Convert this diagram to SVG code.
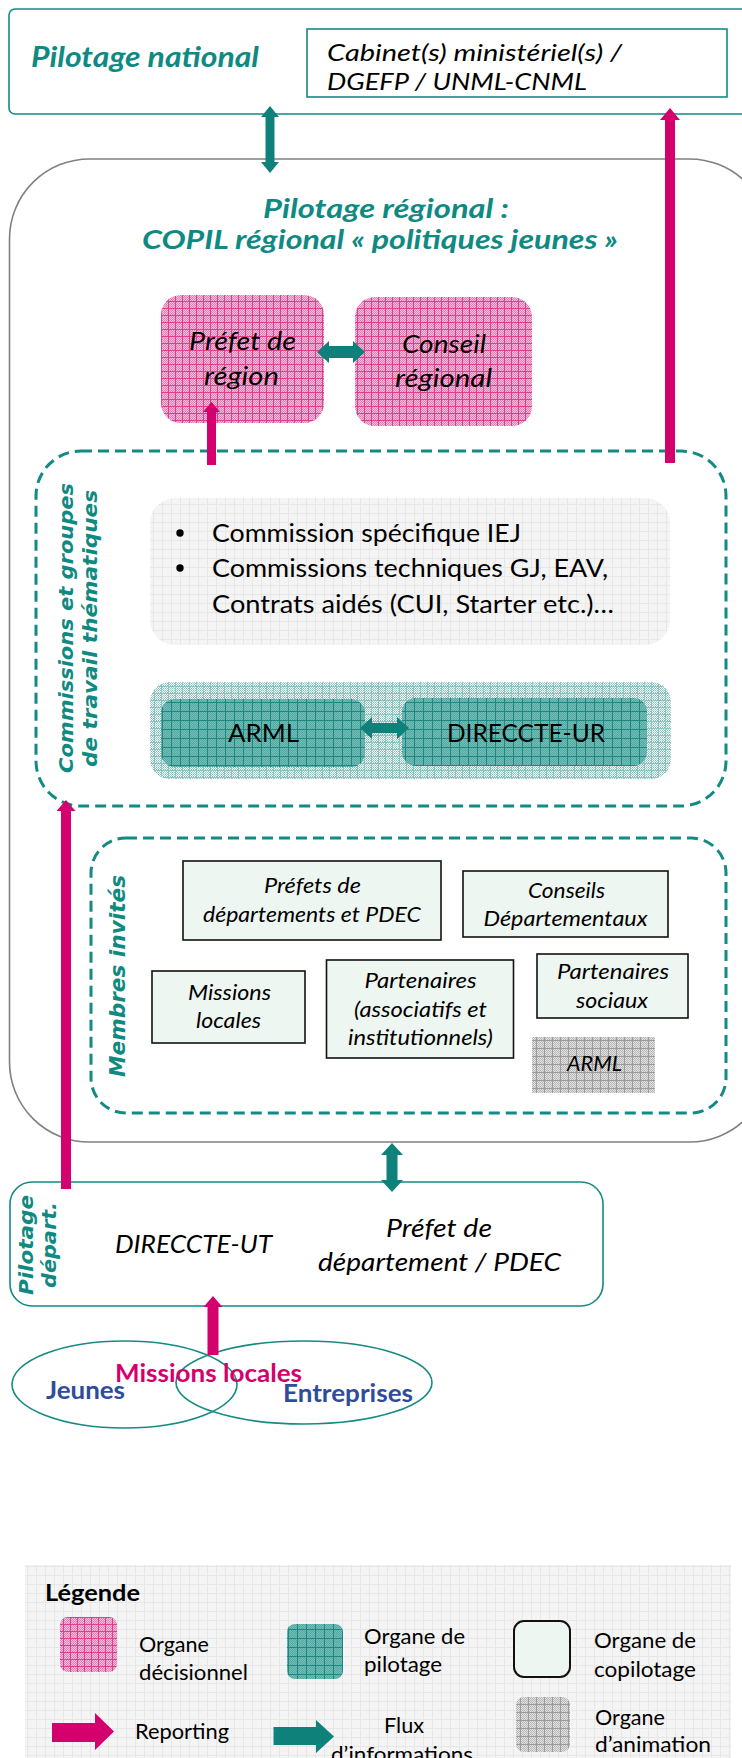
<svg xmlns="http://www.w3.org/2000/svg" width="742" height="1758" viewBox="0 0 742 1758">
  <style>
    .t { font-family: Lato, "Liberation Sans", sans-serif; fill: #000; }
    .it { font-style: italic; }
    .teal { fill: #0f8a82; font-weight: bold; font-style: italic; }
    .vert { font-family: "DejaVu Sans", Verdana, sans-serif; font-weight: bold; font-style: italic; fill: #0f8a82; }
    .mid { text-anchor: middle; }
    .frameTeal { fill: #fff; stroke: #138a83; stroke-width: 1.6; }
    .dash { fill: none; stroke: #138a83; stroke-width: 3; stroke-dasharray: 11 6; }
    .copil { fill: #eef6f1; stroke: #111; stroke-width: 1.6; }
    .pink { fill: #d4006e; }
    .flux { fill: #0e817b; }
    .ell { fill: none; stroke: #168a84; stroke-width: 1.6; }
    .blue { fill: #2f4b9c; font-weight: bold; }
    .mag { fill: #d4006e; font-weight: bold; }
  </style>
  <defs>
    <!-- fine dither cells -->
    <pattern id="dPink" width="2" height="2" patternUnits="userSpaceOnUse">
      <rect width="2" height="2" fill="#f6bfdb"/>
      <rect width="1" height="1" fill="#e77db3"/>
      <rect x="1" y="1" width="1" height="1" fill="#e77db3"/>
    </pattern>
    <pattern id="dTealLight" width="2" height="2" patternUnits="userSpaceOnUse">
      <rect width="2" height="2" fill="#ffffff"/>
      <rect width="1" height="1" fill="#7fbfb9"/>
      <rect x="1" y="1" width="1" height="1" fill="#9fd0cb"/>
    </pattern>
    <pattern id="dTeal" width="2" height="2" patternUnits="userSpaceOnUse">
      <rect width="2" height="2" fill="#74bdb7"/>
      <rect width="1" height="1" fill="#52aaa3"/>
      <rect x="1" y="1" width="1" height="1" fill="#52aaa3"/>
    </pattern>
    <pattern id="dGray" width="2" height="2" patternUnits="userSpaceOnUse">
      <rect width="2" height="2" fill="#e4e4e4"/>
      <rect width="1" height="1" fill="#b4b4b4"/>
      <rect x="1" y="1" width="1" height="1" fill="#b4b4b4"/>
    </pattern>
    <!-- grid fills -->
    <pattern id="fPink" width="7" height="7" patternUnits="userSpaceOnUse">
      <rect width="7" height="7" fill="url(#dPink)"/>
      <path d="M0 0.5H7M0.5 0V7" stroke="#db3f8e" stroke-width="1"/>
    </pattern>
    <pattern id="fTealLight" width="7" height="7" patternUnits="userSpaceOnUse">
      <rect width="7" height="7" fill="url(#dTealLight)"/>
      <path d="M0 0.5H7M0.5 0V7" stroke="#8ac4bf" stroke-width="1"/>
    </pattern>
    <pattern id="fTeal" width="9" height="9" patternUnits="userSpaceOnUse">
      <rect width="9" height="9" fill="url(#dTeal)"/>
      <path d="M0 0.5H9M0.5 0V9" stroke="#1f8780" stroke-width="1"/>
    </pattern>
    <pattern id="fGray" width="8" height="8" patternUnits="userSpaceOnUse">
      <rect width="8" height="8" fill="url(#dGray)"/>
      <path d="M0 0.5H8M0.5 0V8" stroke="#9c9c9c" stroke-width="1"/>
    </pattern>
    <pattern id="fLight" width="9" height="9" patternUnits="userSpaceOnUse">
      <rect width="9" height="9" fill="#f4f4f4"/>
      <path d="M0 0.5H9M0.5 0V9" stroke="#e7e7e7" stroke-width="1"/>
    </pattern>
  </defs>

  <rect width="742" height="1758" fill="#fff"/>

  <!-- national level -->
  <g id="national">
    <rect class="frameTeal" x="9" y="9" width="770" height="105" rx="6"/>
    <text class="t teal" x="31" y="67" font-size="28" textLength="228" lengthAdjust="spacingAndGlyphs">Pilotage national</text>
  </g>
  <g id="cabinet">
    <rect class="frameTeal" x="307" y="29" width="420" height="68"/>
    <text class="t it" x="327" y="61" font-size="23" textLength="295" lengthAdjust="spacingAndGlyphs">Cabinet(s) ministériel(s) /</text>
    <text class="t it" x="327" y="90" font-size="23" textLength="260" lengthAdjust="spacingAndGlyphs">DGEFP / UNML-CNML</text>
  </g>

  <!-- regional level -->
  <g id="regional">
    <rect x="9.5" y="159" width="760" height="983" rx="80" fill="#fff" stroke="#808080" stroke-width="1.6"/>
    <text class="t teal mid" x="386" y="218" font-size="27" textLength="246" lengthAdjust="spacingAndGlyphs">Pilotage régional :</text>
    <text class="t teal mid" x="380" y="249" font-size="27" textLength="476" lengthAdjust="spacingAndGlyphs">COPIL régional « politiques jeunes »</text>
  </g>
  <g id="prefet-region">
    <rect x="161" y="295" width="163" height="128" rx="20" fill="url(#fPink)"/>
    <text class="t it mid" x="242.5" y="350" font-size="25" textLength="107" lengthAdjust="spacingAndGlyphs">Préfet de</text>
    <text class="t it mid" x="241.5" y="385" font-size="25" textLength="75" lengthAdjust="spacingAndGlyphs">région</text>
  </g>
  <g id="conseil-regional">
    <rect x="355" y="297" width="177" height="129" rx="20" fill="url(#fPink)"/>
    <text class="t it mid" x="444" y="353" font-size="25" textLength="84" lengthAdjust="spacingAndGlyphs">Conseil</text>
    <text class="t it mid" x="443.5" y="387" font-size="25" textLength="97" lengthAdjust="spacingAndGlyphs">régional</text>
  </g>

  <g id="commissions">
    <rect class="dash" x="36" y="451" width="690" height="355" rx="45"/>
    <text class="vert mid" font-size="20" textLength="290" lengthAdjust="spacingAndGlyphs" transform="translate(73,628) rotate(-90)">Commissions et groupes</text>
    <text class="vert mid" font-size="20" textLength="277" lengthAdjust="spacingAndGlyphs" transform="translate(97,628.5) rotate(-90)">de travail thématiques</text>
  </g>
  <g id="liste-commissions">
    <rect x="150" y="498" width="520" height="147" rx="25" fill="url(#fLight)"/>
    <circle cx="180" cy="533" r="3.7" fill="#000"/>
    <circle cx="180" cy="568" r="3.7" fill="#000"/>
    <text class="t" x="212" y="542" font-size="25" textLength="309" lengthAdjust="spacingAndGlyphs">Commission spécifique IEJ</text>
    <text class="t" x="212" y="577" font-size="25" textLength="396" lengthAdjust="spacingAndGlyphs">Commissions techniques GJ, EAV,</text>
    <text class="t" x="212" y="613" font-size="25" textLength="402" lengthAdjust="spacingAndGlyphs">Contrats aidés (CUI, Starter etc.)…</text>
  </g>
  <g id="pilotage-regional">
    <rect x="150" y="682" width="521" height="97" rx="20" fill="url(#fTealLight)"/>
  </g>
  <g id="arml">
    <rect x="161" y="699" width="204" height="68" rx="14" fill="url(#fTeal)"/>
    <text class="t mid" x="263.5" y="742" font-size="25" textLength="71" lengthAdjust="spacingAndGlyphs">ARML</text>
  </g>
  <g id="direccte-ur">
    <rect x="402" y="698" width="245" height="68" rx="14" fill="url(#fTeal)"/>
    <text class="t mid" x="526" y="742" font-size="25" textLength="158" lengthAdjust="spacingAndGlyphs">DIRECCTE-UR</text>
  </g>

  <g id="membres-invites">
    <rect class="dash" x="91" y="838" width="635" height="275" rx="35"/>
    <text class="vert mid" font-size="21" textLength="202" lengthAdjust="spacingAndGlyphs" transform="translate(125,976) rotate(-90)">Membres invités</text>
  </g>
  <g id="prefets-departements">
    <rect class="copil" x="183" y="861" width="258" height="79"/>
    <text class="t it mid" x="312.5" y="893" font-size="22" textLength="97" lengthAdjust="spacingAndGlyphs">Préfets de</text>
    <text class="t it mid" x="312" y="922" font-size="22" textLength="218" lengthAdjust="spacingAndGlyphs">départements et PDEC</text>
  </g>
  <g id="conseils-departementaux">
    <rect class="copil" x="463" y="871" width="205" height="66"/>
    <text class="t it mid" x="566.5" y="898" font-size="22" textLength="77" lengthAdjust="spacingAndGlyphs">Conseils</text>
    <text class="t it mid" x="565.5" y="926" font-size="22" textLength="164" lengthAdjust="spacingAndGlyphs">Départementaux</text>
  </g>
  <g id="missions-locales-invitees">
    <rect class="copil" x="152" y="971" width="153" height="72"/>
    <text class="t it mid" x="229.5" y="1000" font-size="22" textLength="83" lengthAdjust="spacingAndGlyphs">Missions</text>
    <text class="t it mid" x="228.5" y="1028" font-size="22" textLength="65" lengthAdjust="spacingAndGlyphs">locales</text>
  </g>
  <g id="partenaires">
    <rect class="copil" x="326.5" y="960" width="187" height="98"/>
    <text class="t it mid" x="420.5" y="988" font-size="22" textLength="112" lengthAdjust="spacingAndGlyphs">Partenaires</text>
    <text class="t it mid" x="420.5" y="1017" font-size="22" textLength="133" lengthAdjust="spacingAndGlyphs">(associatifs et</text>
    <text class="t it mid" x="420.5" y="1045" font-size="22" textLength="145" lengthAdjust="spacingAndGlyphs">institutionnels)</text>
  </g>
  <g id="partenaires-sociaux">
    <rect class="copil" x="537" y="954" width="151" height="64"/>
    <text class="t it mid" x="613" y="979" font-size="22" textLength="112" lengthAdjust="spacingAndGlyphs">Partenaires</text>
    <text class="t it mid" x="612" y="1008" font-size="22" textLength="72" lengthAdjust="spacingAndGlyphs">sociaux</text>
  </g>
  <g id="arml-invitee">
    <rect x="532" y="1037" width="123" height="56" fill="url(#fGray)"/>
    <text class="t it mid" x="594.5" y="1071" font-size="22" textLength="55" lengthAdjust="spacingAndGlyphs">ARML</text>
  </g>

  <!-- departmental level -->
  <g id="departemental">
    <rect class="frameTeal" x="10" y="1182" width="593" height="124" rx="22"/>
    <text class="vert mid" font-size="20" textLength="100" lengthAdjust="spacingAndGlyphs" transform="translate(33,1245) rotate(-90)">Pilotage</text>
    <text class="vert mid" font-size="20" textLength="86" lengthAdjust="spacingAndGlyphs" transform="translate(56,1245) rotate(-90)">départ.</text>
    <text class="t it mid" x="193.5" y="1253" font-size="25" textLength="157" lengthAdjust="spacingAndGlyphs">DIRECCTE-UT</text>
    <text class="t it mid" x="439" y="1237" font-size="25" textLength="106" lengthAdjust="spacingAndGlyphs">Préfet de</text>
    <text class="t it mid" x="439.5" y="1271" font-size="25" textLength="243" lengthAdjust="spacingAndGlyphs">département / PDEC</text>
  </g>

  <!-- local level -->
  <g id="jeunes">
    <ellipse class="ell" cx="124.5" cy="1384.5" rx="112.5" ry="43.5"/>
    <text class="t blue mid" x="85.5" y="1399" font-size="24" textLength="79" lengthAdjust="spacingAndGlyphs">Jeunes</text>
  </g>
  <g id="entreprises">
    <ellipse class="ell" cx="304" cy="1382.5" rx="128" ry="41.5"/>
    <text class="t blue mid" x="348" y="1402" font-size="24" textLength="130" lengthAdjust="spacingAndGlyphs">Entreprises</text>
  </g>

  <!-- connectors -->
  <g id="connectors">
    <!-- information flows -->
    <polygon class="flux" points="270,106 279,117 274.5,117 274.5,162 279,162 270,173 261,162 265.5,162 265.5,117 261,117"/>
    <polygon class="flux" points="317,352 329,341 329,346 353,346 353,341 365,352 353,363 353,358 329,358 329,363"/>
    <polygon class="flux" points="360,728 372,717 372,723 397,723 397,717 409,728 397,739 397,733 372,733 372,739"/>
    <polygon class="flux" points="392,1143 403,1155 397.5,1155 397.5,1180 403,1180 392,1192 381,1180 386.5,1180 386.5,1155 381,1155"/>
    <!-- reporting -->
    <polygon class="pink" points="670,108 680,120 675,120 675,463 665,463 665,120 660,120"/>
    <polygon class="pink" points="211.5,402 220,412 216,412 216,465 207,465 207,412 203,412"/>
    <polygon class="pink" points="66,800 75.5,811 71,811 71,1189 61,1189 61,811 56.5,811"/>
    <polygon class="pink" points="213,1296 222.5,1307 218.5,1307 218.5,1355 207.5,1355 207.5,1307 203.5,1307"/>
  </g>

  <g id="missions-locales">
    <text class="t mag mid" x="208.5" y="1382" font-size="24" textLength="187" lengthAdjust="spacingAndGlyphs">Missions locales</text>
  </g>

  <!-- key -->
  <g id="legende">
    <rect x="25" y="1565" width="706" height="200" fill="url(#fLight)"/>
    <text class="t" x="45" y="1601" font-size="23" font-weight="bold" textLength="95" lengthAdjust="spacingAndGlyphs">Légende</text>
    <rect x="60" y="1617" width="57" height="55" rx="8" fill="url(#fPink)"/>
    <text class="t" x="139" y="1652" font-size="21" textLength="70" lengthAdjust="spacingAndGlyphs">Organe</text>
    <text class="t" x="139" y="1680" font-size="21" textLength="109" lengthAdjust="spacingAndGlyphs">décisionnel</text>
    <rect x="287" y="1624" width="56" height="55" rx="8" fill="url(#fTeal)"/>
    <text class="t" x="364" y="1644" font-size="21" textLength="101" lengthAdjust="spacingAndGlyphs">Organe de</text>
    <text class="t" x="364" y="1672" font-size="21" textLength="78" lengthAdjust="spacingAndGlyphs">pilotage</text>
    <rect x="514" y="1621" width="56" height="56" rx="10" fill="#eef6f1" stroke="#111" stroke-width="2"/>
    <text class="t" x="594" y="1648" font-size="21" textLength="102" lengthAdjust="spacingAndGlyphs">Organe de</text>
    <text class="t" x="594" y="1677" font-size="21" textLength="102" lengthAdjust="spacingAndGlyphs">copilotage</text>
    <rect x="516" y="1697" width="54" height="55" rx="8" fill="url(#fGray)"/>
    <text class="t" x="595" y="1725" font-size="21" textLength="70" lengthAdjust="spacingAndGlyphs">Organe</text>
    <text class="t" x="595" y="1752" font-size="21" textLength="116" lengthAdjust="spacingAndGlyphs">d’animation</text>
    <polygon class="pink" points="52,1723 95,1723 95,1713 114,1731.5 95,1750 95,1742 52,1742"/>
    <text class="t" x="135" y="1739" font-size="21" textLength="94" lengthAdjust="spacingAndGlyphs">Reporting</text>
    <polygon class="flux" points="273.5,1727 316,1727 316,1720 334,1736.5 316,1753 316,1745 273.5,1745"/>
    <text class="t mid" x="404" y="1733" font-size="21" textLength="40" lengthAdjust="spacingAndGlyphs">Flux</text>
    <text class="t mid" x="402" y="1762" font-size="21" textLength="142" lengthAdjust="spacingAndGlyphs">d’informations</text>
  </g>
</svg>
